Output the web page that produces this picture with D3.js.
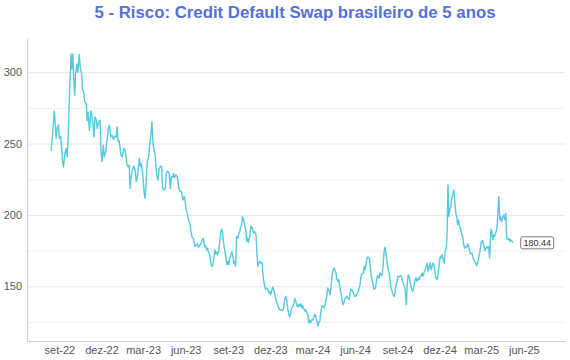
<!DOCTYPE html>
<html>
<head>
<meta charset="utf-8">
<title>CDS Brasil 5 anos</title>
<style>
  body { margin: 0; background: #fff; }
  svg { font-family: "Liberation Sans", Arial, sans-serif; }
</style>
</head>
<body>
<svg width="570" height="360"></svg>
<script src="https://cdn.jsdelivr.net/npm/d3@7"></script>
<script>

    // data: day offsets from baseDate and CDS level (bps)
    var baseDate = "2022-09-01";
    var dayOffsets = [
        -18, -15, -11, -9, -7, -5, -2, 0, 3, 7, 9, 12, 15, 17, 20, 22, 24, 25, 27, 29,
        31, 33, 35, 38, 40, 43, 45, 48, 50, 53, 55, 58, 60, 62, 65, 68, 70, 72, 75, 77,
        80, 82, 85, 88, 90, 92, 95, 97, 100, 103, 106, 108, 111, 114, 117, 120, 123, 125, 127, 129,
        131, 133, 136, 139, 142, 144, 146, 149, 151, 153, 155, 158, 161, 164, 166, 169, 171, 173, 175, 177,
        180, 183, 185, 187, 190, 193, 195, 198, 200, 202, 204, 207, 209, 211, 213, 216, 219, 221, 223, 226,
        229, 231, 234, 237, 240, 242, 245, 247, 249, 252, 255, 258, 261, 264, 267, 270, 272, 274, 277, 279,
        282, 284, 287, 290, 293, 296, 298, 301, 304, 307, 309, 311, 314, 316, 318, 320, 323, 325, 327, 329,
        332, 334, 336, 338, 340, 342, 345, 347, 349, 351, 353, 355, 358, 360, 362, 364, 366, 368, 371, 373,
        375, 377, 379, 381, 383, 386, 388, 390, 392, 394, 396, 399, 401, 403, 405, 407, 409, 412, 414, 416,
        418, 420, 422, 425, 427, 429, 431, 433, 435, 438, 440, 442, 444, 446, 448, 451, 453, 455, 457, 459,
        461, 463, 466, 468, 470, 472, 474, 476, 479, 481, 483, 485, 487, 489, 492, 494, 496, 498, 500, 502,
        505, 507, 509, 511, 513, 515, 518, 520, 522, 524, 526, 528, 531, 533, 535, 537, 539, 541, 543, 546,
        548, 550, 552, 554, 556, 559, 561, 563, 565, 567, 569, 572, 574, 576, 578, 580, 582, 585, 587, 589,
        591, 593, 595, 598, 600, 602, 604, 606, 608, 611, 613, 615, 617, 619, 621, 623, 626, 628, 630, 632,
        634, 636, 639, 641, 644, 646, 648, 650, 652, 654, 657, 659, 661, 663, 665, 667, 670, 672, 674, 676,
        678, 680, 683, 685, 687, 689, 691, 693, 696, 698, 700, 702, 704, 706, 709, 711, 713, 715, 717, 719,
        721, 724, 726, 728, 730, 732, 734, 737, 739, 741, 743, 745, 747, 750, 752, 754, 756, 758, 760, 763,
        765, 767, 769, 771, 773, 776, 778, 780, 782, 784, 786, 789, 791, 793, 795, 797, 799, 801, 804, 806,
        808, 810, 812, 814, 817, 819, 821, 823, 825, 827, 830, 832, 834, 836, 838, 840, 842, 844, 846, 848,
        850, 853, 855, 857, 859, 861, 863, 866, 868, 870, 872, 874, 876, 879, 881, 883, 885, 887, 889, 892,
        894, 896, 898, 900, 902, 905, 907, 909, 911, 913, 915, 918, 920, 922, 924, 926, 928, 930, 933, 935,
        937, 939, 941, 943, 946, 948, 950, 952, 954, 956, 959, 961, 963, 965, 967, 969, 972, 974, 976, 979,
        980
    ];
    var cds = [
        244.9, 254.7, 272.8, 264, 253.5, 260.5, 263, 253.5, 255, 237, 233.7, 243, 246.5, 240.7, 264, 287, 301, 312.8, 302, 312.8,
        296.5, 283.7, 298.8, 305.8, 300, 312.3, 303.5, 298.8, 288.4, 285, 279, 278, 266, 272, 259.3, 273, 270, 265, 254.7, 268.6,
        266.3, 260.5, 265, 266.3, 245.3, 237.2, 248.8, 240.7, 244.2, 252.3, 260.5, 262.8, 254.7, 255.8, 253, 255.1, 254.7, 261.6, 251.2, 252.3,
        247.7, 241.9, 240.7, 246.5, 245.3, 240.7, 234.9, 233.7, 234.9, 218.6, 226.7, 231.4, 234.2, 230.9, 223.3, 227.9, 233.7, 239.5, 233.7, 236,
        229.1, 216.3, 211.6, 219.8, 237.2, 240.7, 247.7, 257, 265.1, 252.3, 246.5, 241.9, 232.6, 226.7, 224.4, 232.6, 234.2, 233.7, 218.6, 217.4,
        218.6, 229.1, 230.7, 229.5, 218.6, 226.7, 226.3, 229.1, 226.3, 228.1, 226.7, 218.6, 216.3, 216.3, 210.5, 212.8, 209.3, 203.5, 200, 196.5,
        193.7, 189.5, 184.4, 183.3, 177.9, 179.1, 179.8, 177.4, 179.1, 180.2, 183, 183.7, 177.9, 178.4, 175.6, 176.7, 173.3, 172.1, 167.4, 164,
        165.1, 169.8, 175.6, 172.8, 174, 172.1, 175.6, 182.6, 188.4, 190, 187.2, 180.2, 174.4, 169.8, 165.1, 167.4, 165.1, 169.8, 172.1, 174.4,
        170.9, 166.3, 167.4, 164, 184.9, 183.7, 187.2, 188.4, 191.9, 193, 198.8, 196, 191.9, 189.5, 181.4, 183.7, 180.7, 186, 192.3, 191.4,
        189.5, 187.2, 188.4, 186, 173.3, 164, 166.3, 167.4, 166.3, 166.7, 158.1, 153.5, 149.5, 147.7, 148.8, 147.7, 145.3, 146.5, 144.2, 146.5,
        149.5, 148.1, 144.2, 140.7, 138.4, 137.2, 134.9, 133.7, 133.3, 133.7, 133.3, 134.9, 140.7, 143, 139.5, 133.7, 130.2, 128.6, 131.4, 134.9,
        136, 138.4, 141.4, 139.5, 137.2, 135.6, 137.2, 136, 137.9, 134.9, 136.5, 134.2, 132.6, 133.7, 131.4, 130.2, 124.4, 126.3, 124.4, 126.7,
        126.3, 127.9, 130.2, 129.5, 126.7, 122.1, 124.9, 125.6, 131.4, 136, 136.5, 134.9, 136.5, 140.7, 143, 148.8, 147.7, 144.2, 148.8, 155.8,
        160.5, 162.8, 162.1, 159.3, 154.7, 153.5, 154.7, 150, 146.5, 140.7, 137.2, 138.4, 141.2, 141.9, 143, 141.9, 140.7, 144.2, 148.1, 147.7,
        146.5, 144.9, 143, 143, 145.3, 146.5, 148.8, 151.2, 157, 158.8, 159.3, 164, 161.6, 165.1, 169.8, 170.5, 169.8, 164, 157, 154.7,
        151.2, 147.7, 148.8, 152.3, 157, 157.4, 155.8, 159.3, 157.4, 158.8, 165.1, 174.4, 177.4, 173.3, 165.1, 161.6, 159.3, 153.5, 148.8, 146.5,
        144.2, 143, 146.5, 151.2, 153.5, 157, 156.5, 157.4, 157, 154.7, 152.3, 151.2, 148.8, 137.2, 151.2, 158.1, 157, 153.5, 150, 146.5,
        147.7, 151.2, 154.7, 155.8, 153.5, 155.8, 154.7, 157, 157.4, 159.3, 157, 160.5, 161.6, 164, 166.3, 160.5, 162.8, 166.3, 161.6, 165.1,
        166.3, 164, 159.3, 155.8, 154.7, 159.3, 165.1, 170.5, 169.8, 172.1, 168.6, 166.3, 174.4, 176.7, 184.9, 220.9, 198.8, 203.5, 205.8, 210.5,
        214, 217.4, 208.1, 201.2, 198.8, 193, 196.5, 190.7, 189.5, 186, 184.9, 179.1, 176.7, 177.9, 177.4, 179.8, 177.4, 174.4, 172.8, 173.3,
        170.5, 168.6, 167.4, 166.3, 164.4, 167.4, 170.9, 174.4, 179.1, 181.4, 182.1, 177.9, 175.1, 176.7, 177.9, 176.7, 177.9, 169.8, 190, 188.4,
        182.6, 186, 184.9, 187.2, 190.7, 202.3, 212.8, 196.5, 198.8, 195.3, 198.8, 200, 196.5, 201.2, 183.7, 182.6, 183.7, 181.4, 182.6, 181.4,
        180.44
    ];

    var xDomain = ["2022-06-23", "2025-08-29"];
    var yDomain = [111.7, 323.9];
    var xTicks = ["2022-09-01", "2022-12-01", "2023-03-01", "2023-06-01", "2023-09-01", "2023-12-01",
                  "2024-03-01", "2024-06-01", "2024-09-01", "2024-12-01", "2025-03-01", "2025-06-01"];
    var monthNames = ["jan", "fev", "mar", "abr", "mai", "jun", "jul", "ago", "set", "out", "nov", "dez"];
    var yLabelTicks = [150, 200, 250, 300];
    var yGridTicks = [125, 150, 175, 200, 225, 250, 275, 300];
    var title = "5 - Risco: Credit Default Swap brasileiro de 5 anos";

    var parseDate = d3.timeParse("%Y-%m-%d");
    var base = parseDate(baseDate);
    var data = dayOffsets.map(function (d, i) {
        return { date: d3.timeDay.offset(base, d), value: cds[i] };
    });

    var svg = d3.select("svg"),
        margin = { top: 38, right: 5, bottom: 19, left: 27 },
        width = +svg.attr("width") - margin.left - margin.right,
        height = +svg.attr("height") - margin.top - margin.bottom,
        g = svg.append("g").attr("transform", "translate(" + margin.left + "," + margin.top + ")");

    svg.append("text")
        .attr("x", 295)
        .attr("y", 18)
        .attr("text-anchor", "middle")
        .attr("font-size", 16.8)
        .attr("font-weight", "bold")
        .attr("fill", "#5571d2")
        .text(title);

    var x = d3.scaleTime()
        .domain(xDomain.map(parseDate))
        .range([0, width]);

    var y = d3.scaleLinear()
        .domain(yDomain)
        .range([height, 0]);

    // grid lines every 25
    g.append("g")
        .attr("class", "grid")
        .call(d3.axisLeft(y).tickValues(yGridTicks).tickSize(-width).tickFormat(""))
        .call(function (s) {
            s.select(".domain").remove();
            s.selectAll("line")
                .attr("stroke", function (d) { return d % 50 === 0 ? "#e8e8e8" : "#f0f0f0"; })
                .attr("stroke-width", 1);
        });

    // y axis
    g.append("g")
        .call(d3.axisLeft(y).tickValues(yLabelTicks).tickSize(0).tickPadding(5))
        .call(function (s) {
            s.select(".domain").attr("stroke", "#cccccc");
            s.selectAll("text").attr("fill", "#555").attr("font-size", 11)
                .attr("font-family", "Liberation Sans, Arial, sans-serif");
        });

    // x axis
    g.append("g")
        .attr("transform", "translate(0," + height + ")")
        .call(d3.axisBottom(x)
            .tickValues(xTicks.map(parseDate))
            .tickSize(0)
            .tickPadding(5)
            .tickFormat(function (d) {
                return monthNames[d.getMonth()] + "-" + d3.timeFormat("%y")(d);
            }))
        .call(function (s) {
            s.select(".domain").attr("stroke", "#cccccc");
            s.selectAll("text").attr("fill", "#555").attr("font-size", 11)
                .attr("font-family", "Liberation Sans, Arial, sans-serif");
        });

    var line = d3.line()
        .x(function (d) { return x(d.date); })
        .y(function (d) { return y(d.value); });

    g.append("path")
        .datum(data)
        .attr("fill", "none")
        .attr("stroke", "#56c8e0")
        .attr("stroke-width", 1.4)
        .attr("stroke-linejoin", "round")
        .attr("d", line);

    // last value label
    var last = data[data.length - 1];
    var lbl = g.append("g")
        .attr("transform", "translate(" + (x(last.date) + 8) + "," + y(last.value) + ")");
    lbl.append("rect")
        .attr("x", 0)
        .attr("y", -6)
        .attr("width", 33)
        .attr("height", 12)
        .attr("rx", 2)
        .attr("fill", "#fff")
        .attr("stroke", "#555")
        .attr("stroke-width", 0.8);
    lbl.append("text")
        .attr("x", 16.5)
        .attr("y", 0)
        .attr("dy", "0.35em")
        .attr("text-anchor", "middle")
        .attr("font-size", 9)
        .attr("fill", "#333")
        .text(d3.format(".2f")(last.value));

</script>
</body>
</html>
